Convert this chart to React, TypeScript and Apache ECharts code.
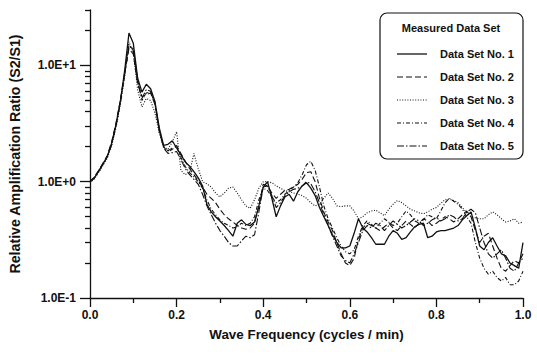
import React, { useEffect, useRef } from "react";
import * as echarts from "echarts";

// Frequency sampling grid (cycles / min), one reading every 0.01
const FREQ_STEP = 0.01;

const legendTitle = "Measured Data Set";

const seriesNames = [
  "Data Set No. 1",
  "Data Set No. 2",
  "Data Set No. 3",
  "Data Set No. 4",
  "Data Set No. 5",
];

// Amplification ratio S2/S1 at each frequency step
const set1 = [
  1.0, 1.08, 1.24, 1.42, 1.65, 2.15, 3.1, 4.9, 9.0, 19.0,
  15.5, 7.8, 5.9, 6.9, 6.3, 4.9, 2.9, 2.05, 2.1, 2.25,
  1.95, 1.7, 1.48, 1.36, 1.22, 1.08, 0.92, 0.64, 0.55, 0.5,
  0.46, 0.42, 0.38, 0.34, 0.44, 0.47, 0.43, 0.42, 0.45, 0.62,
  0.9, 1.0, 0.72, 0.5, 0.62, 0.74, 0.78, 0.68, 0.82, 0.92,
  0.98, 0.88, 0.76, 0.6, 0.5, 0.42, 0.35, 0.3, 0.27, 0.27,
  0.28, 0.36, 0.48, 0.4, 0.37, 0.33, 0.29, 0.29, 0.29, 0.34,
  0.38, 0.36, 0.32, 0.33, 0.37, 0.41, 0.43, 0.44, 0.33, 0.34,
  0.37, 0.38, 0.38, 0.39, 0.4, 0.42, 0.47, 0.51, 0.55, 0.4,
  0.28, 0.26, 0.3, 0.33, 0.28, 0.24, 0.23, 0.2, 0.19, 0.18,
  0.3,
];

const set2 = [
  1.0, 1.1, 1.25, 1.45, 1.68, 2.2, 3.2, 5.0, 8.5, 14.0,
  12.5, 7.0, 5.4, 5.6, 5.8, 4.6, 2.8, 2.0, 1.85, 1.95,
  2.05, 1.75, 1.5, 1.3, 1.15, 1.02, 0.9, 0.78, 0.72, 0.66,
  0.58, 0.52, 0.48, 0.45, 0.42, 0.4, 0.39, 0.4, 0.44, 0.62,
  0.95, 0.92, 0.8, 0.72, 0.78, 0.84, 0.86, 0.9, 0.95, 1.05,
  1.2, 1.22, 1.0, 0.72, 0.55, 0.45, 0.38, 0.3, 0.24, 0.2,
  0.19, 0.22, 0.32, 0.4, 0.44, 0.42, 0.4, 0.38, 0.41, 0.44,
  0.4, 0.38, 0.42, 0.46, 0.43, 0.4, 0.44, 0.48, 0.46, 0.42,
  0.44, 0.47, 0.5, 0.48, 0.45, 0.48, 0.52, 0.56, 0.5, 0.38,
  0.3, 0.34, 0.36, 0.28, 0.22, 0.18, 0.17, 0.19, 0.21, 0.2,
  0.24,
];

const set3 = [
  0.98, 1.06, 1.2, 1.38, 1.6, 2.05, 2.9, 4.6, 8.0, 16.0,
  13.0, 6.2, 4.4, 5.2, 5.0, 3.9, 2.6, 2.0, 1.9, 2.2,
  2.7, 1.25, 1.15, 1.2, 1.75, 1.3, 1.0, 0.96, 0.9, 0.8,
  0.74, 0.8, 0.88, 0.9, 0.8, 0.7, 0.62, 0.59, 0.7, 0.88,
  1.0, 1.0, 0.98, 0.92, 0.88, 0.84, 0.82, 0.8, 0.78, 0.76,
  0.72, 0.66, 0.62, 0.64, 0.72, 0.8, 0.72, 0.62, 0.61, 0.62,
  0.62, 0.56, 0.48, 0.5, 0.54, 0.56, 0.57, 0.54, 0.51, 0.58,
  0.64, 0.69, 0.66, 0.62, 0.58, 0.56, 0.54, 0.53, 0.55, 0.58,
  0.6, 0.65, 0.7, 0.71, 0.69, 0.66, 0.6, 0.54, 0.5, 0.49,
  0.48, 0.48, 0.52, 0.55, 0.52, 0.48, 0.45, 0.46, 0.48, 0.44,
  0.45,
];

const set4 = [
  1.0, 1.09, 1.23, 1.43, 1.66, 2.12, 3.05, 4.85, 8.6, 14.5,
  14.0, 7.5, 5.0, 5.8, 5.9, 4.7, 2.7, 2.0, 1.8, 1.9,
  2.0, 1.62, 1.35, 1.2, 1.1, 1.0, 0.88, 0.7, 0.58, 0.52,
  0.47, 0.44, 0.42, 0.4, 0.41, 0.44, 0.42, 0.44, 0.5, 0.7,
  0.88, 0.84, 0.74, 0.66, 0.7, 0.78, 0.84, 0.9, 0.98, 1.15,
  1.4, 1.5, 1.25, 0.9, 0.62, 0.48, 0.4, 0.33, 0.28, 0.25,
  0.24, 0.26, 0.34, 0.42, 0.46, 0.43, 0.4, 0.44, 0.48, 0.45,
  0.42, 0.44, 0.5, 0.56, 0.52, 0.46, 0.44, 0.47, 0.52, 0.5,
  0.48, 0.56, 0.66, 0.72, 0.68, 0.64, 0.58, 0.5, 0.44, 0.3,
  0.22, 0.18, 0.16, 0.17, 0.15, 0.14, 0.15, 0.13, 0.13, 0.14,
  0.17,
];

const set5 = [
  1.0, 1.07, 1.22, 1.41, 1.64, 2.08, 3.0, 4.75, 8.3, 15.0,
  13.5, 7.2, 5.2, 6.2, 6.0, 4.8, 2.8, 1.95, 1.75, 1.78,
  1.82, 1.55, 1.3, 1.15, 1.05, 0.95, 0.78, 0.62, 0.52, 0.44,
  0.38, 0.34, 0.3, 0.28, 0.28, 0.31, 0.34, 0.33, 0.35, 0.55,
  0.9, 0.92, 0.76, 0.6, 0.66, 0.76, 0.82, 0.86, 0.88, 0.92,
  1.0, 0.96, 0.82, 0.66, 0.52, 0.42, 0.34, 0.28, 0.23, 0.21,
  0.2, 0.24, 0.3, 0.38, 0.42, 0.4, 0.44, 0.42, 0.38, 0.42,
  0.46, 0.43, 0.4, 0.42, 0.45, 0.48, 0.46, 0.42, 0.44, 0.47,
  0.49, 0.46, 0.48, 0.52, 0.5, 0.46, 0.48, 0.55, 0.58, 0.54,
  0.4, 0.3, 0.24, 0.22, 0.24, 0.26, 0.22, 0.18, 0.17, 0.2,
  0.22,
];

const seriesValues = [set1, set2, set3, set4, set5];

// Decade labels on the log axis and the minor ticks between them
const majorTicks = [0.1, 1, 10];
const minorTicks = [
  0.2, 0.3, 0.4, 0.5, 0.6, 0.7, 0.8, 0.9,
  2, 3, 4, 5, 6, 7, 8, 9, 20, 30,
];

const lineDashes: number[][] = [
  [],
  [6, 3],
  [1, 1.6],
  [4, 2, 1, 2],
  [7, 2, 1.5, 2],
];
const lineWidths = [1.3, 1.1, 1.1, 1.1, 1.1];

const FONT = "'Liberation Sans', Arial, Helvetica, sans-serif";
const INK = "#111";

function sciLabel(v: number): string {
  const e = Math.round(Math.log10(v));
  if (Math.abs(Math.pow(10, e) - v) > 1e-9 * Math.max(1, v)) return "";
  return "1.0E" + (e >= 0 ? "+" : "-") + Math.abs(e);
}

export default function App() {
  const ref = useRef<HTMLDivElement>(null);

  useEffect(() => {
    if (!ref.current) return;
    const chart = echarts.init(ref.current, undefined, { renderer: "svg" });

    const series = seriesNames.map((name, k) => ({
      name,
      type: "line" as const,
      symbol: "none",
      data: seriesValues[k].map((v, i) => [
        Number((i * FREQ_STEP).toFixed(2)),
        v,
      ]),
      lineStyle: {
        color: INK,
        width: lineWidths[k],
        type: (lineDashes[k].length ? lineDashes[k] : "solid") as any,
      },
      itemStyle: { color: INK },
      emphasis: { disabled: true },
    }));

    // Boxed key in the upper right corner
    const boxLeft = 380;
    const boxTop = 13;
    const rowY0 = 54;
    const rowGap = 23;
    const keyItems: any[] = [
      {
        type: "rect",
        shape: { x: boxLeft, y: boxTop, width: 143, height: 146, r: 7 },
        style: { fill: "none", stroke: INK, lineWidth: 1.2 },
        z: 10,
      },
      {
        type: "text",
        x: 451,
        y: 28,
        style: {
          text: legendTitle,
          fontFamily: FONT,
          fontWeight: "bold",
          fontSize: 11,
          fill: INK,
          align: "center",
          verticalAlign: "middle",
        },
        z: 10,
      },
    ];
    seriesNames.forEach((name, k) => {
      const y = rowY0 + k * rowGap;
      keyItems.push({
        type: "line",
        shape: { x1: 397, y1: y, x2: 427, y2: y },
        style: {
          stroke: INK,
          lineWidth: lineWidths[k],
          lineDash: lineDashes[k].length ? lineDashes[k] : null,
        },
        z: 10,
      });
      keyItems.push({
        type: "text",
        x: 440,
        y,
        style: {
          text: name,
          fontFamily: FONT,
          fontWeight: "bold",
          fontSize: 11,
          fill: INK,
          align: "left",
          verticalAlign: "middle",
        },
        z: 10,
      });
    });

    chart.setOption({
      animation: false,
      backgroundColor: "#fff",
      textStyle: { fontFamily: FONT },
      grid: {
        left: 90,
        right: 14,
        top: 10,
        bottom: 56,
        containLabel: false,
        outerBoundsMode: "none",
      },
      xAxis: {
        type: "value",
        min: 0,
        max: 1,
        interval: 0.2,
        name: "Wave Frequency (cycles / min)",
        nameLocation: "middle",
        nameGap: 30,
        nameTextStyle: {
          fontFamily: FONT,
          fontWeight: "bold",
          fontSize: 13.4,
          color: INK,
        },
        axisLine: { show: true, onZero: false, lineStyle: { color: INK, width: 1.3 } },
        axisTick: { show: true, length: 9, lineStyle: { color: INK, width: 1.3 } },
        minorTick: { show: true, splitNumber: 2, length: 5, lineStyle: { color: INK, width: 1.3 } },
        axisLabel: {
          margin: 11,
          fontFamily: FONT,
          fontWeight: "bold",
          fontSize: 12,
          color: INK,
          formatter: (v: number) => v.toFixed(1),
        },
        splitLine: { show: false },
      },
      yAxis: [
        {
          type: "log",
          logBase: 10,
          min: 0.1,
          max: 30,
          position: "left",
          name: "Relative Amplification Ratio (S2/S1)",
          nameLocation: "middle",
          nameGap: 68,
          nameTextStyle: {
            fontFamily: FONT,
            fontWeight: "bold",
            fontSize: 14.2,
            color: INK,
          },
          axisLine: { show: true, onZero: false, lineStyle: { color: INK, width: 1.3 } },
          axisTick: {
            show: true,
            length: 10,
            customValues: majorTicks,
            lineStyle: { color: INK, width: 1.3 },
          },
          axisLabel: {
            margin: 14,
            customValues: majorTicks,
            fontFamily: FONT,
            fontWeight: "bold",
            fontSize: 12,
            color: INK,
            formatter: (v: number) => sciLabel(v),
          },
          splitLine: { show: false },
        },
        {
          type: "log",
          logBase: 10,
          min: 0.1,
          max: 30,
          position: "left",
          axisLine: { show: false },
          axisTick: {
            show: true,
            length: 5,
            customValues: minorTicks,
            lineStyle: { color: INK, width: 1.3 },
          },
          axisLabel: { show: false },
          splitLine: { show: false },
        },
      ],
      graphic: keyItems,
      series,
    });

    return () => chart.dispose();
  }, []);

  return (
    <div
      ref={ref}
      style={{ position: "fixed", left: 0, top: 0, width: 537, height: 354 }}
    />
  );
}
